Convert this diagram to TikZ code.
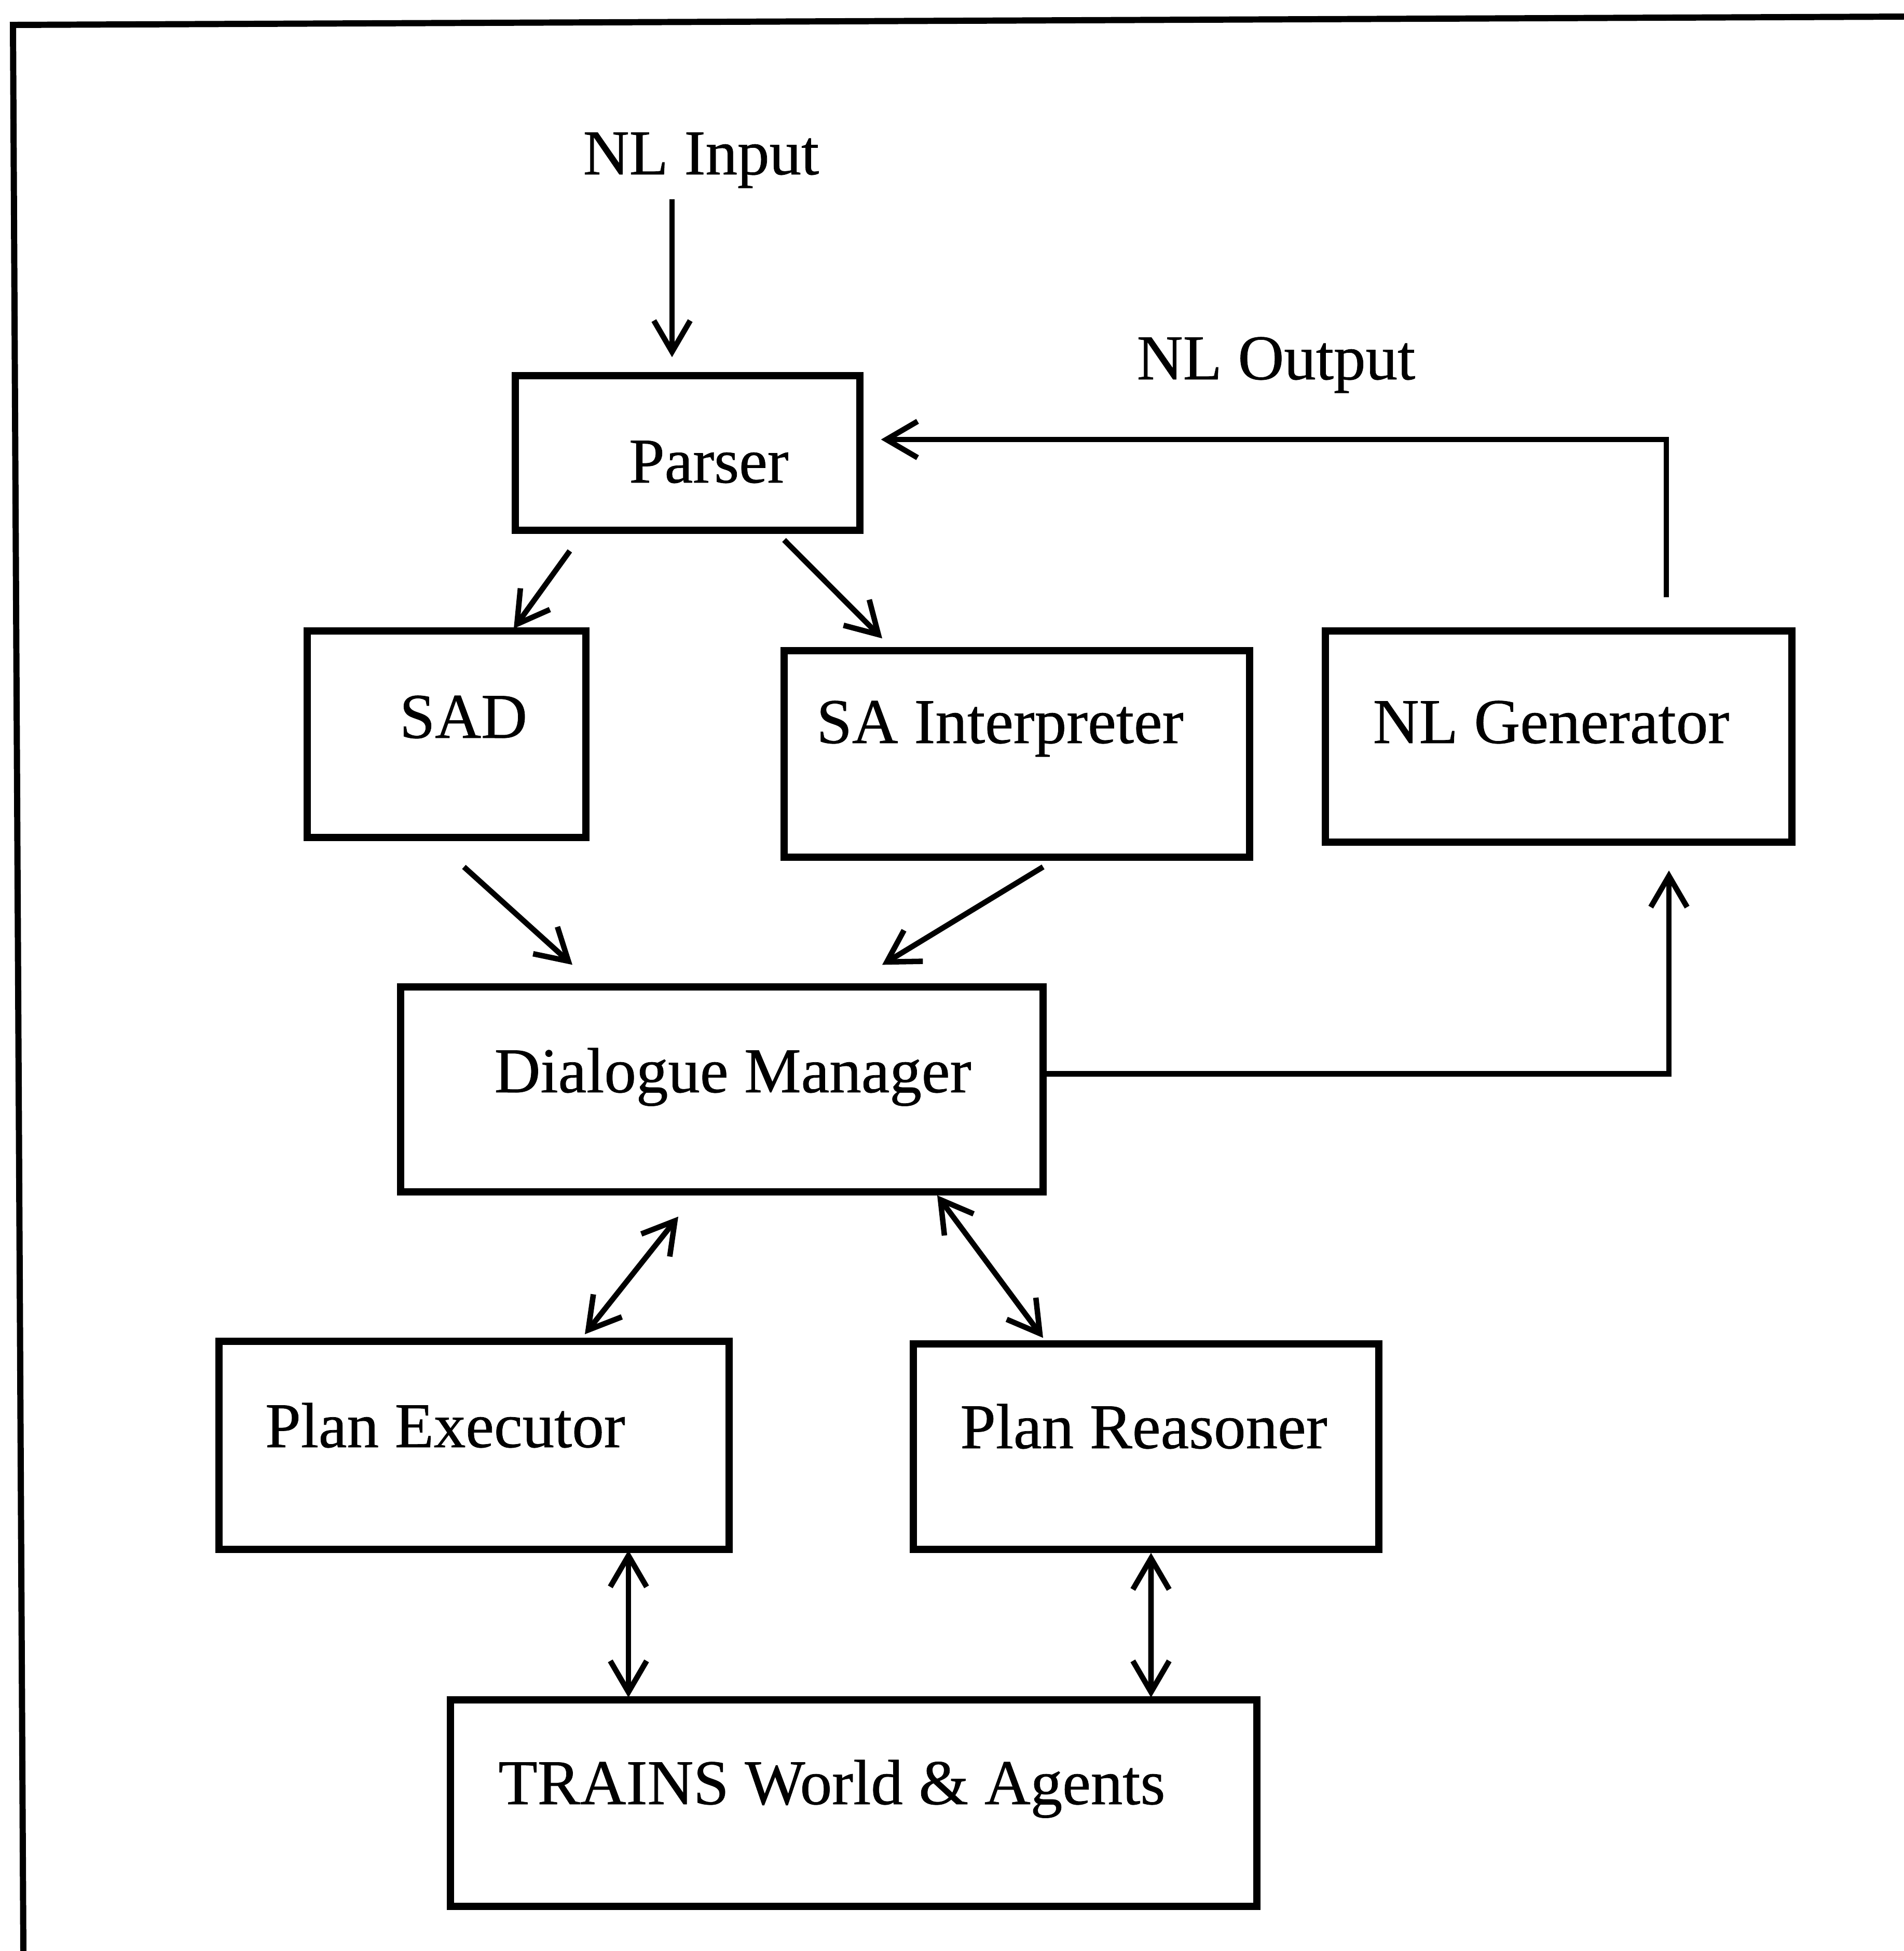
\documentclass[tikz,border=0pt]{standalone}
\usepackage{fontspec}
\setmainfont{Liberation Serif}
\newfontfamily\lblfont{Liberation Serif}[FakeBold=0.6]
\usetikzlibrary{arrows.meta,calc}
\begin{document}
\begin{tikzpicture}[
  box/.style={draw, line width=3.8pt, rectangle, inner sep=0pt},
  lbl/.style={font=\lblfont\fontsize{35}{42}\selectfont, anchor=base, inner sep=0pt},
  arr/.style={line width=3pt, -{Straight Barb[length=0.6cm,width=0.7cm]}},
  darr/.style={line width=3pt, {Straight Barb[length=0.6cm,width=0.7cm]}-{Straight Barb[length=0.6cm,width=0.7cm]}},
  frame/.style={line width=3.4pt, line cap=rect}
]
\useasboundingbox (0,0) rectangle (36.69,-37.6);

% open frame: left and top edges only
\draw[frame] (0.45,-37.6) -- (0.25,-0.48) -- (36.69,-0.32);

% boxes
\node[box, minimum width=6.64cm, minimum height=2.98cm] (parser) at (13.25,-8.73) {};
\node[box, minimum width=5.37cm, minimum height=3.98cm] (sad) at (8.605,-14.15) {};
\node[box, minimum width=8.97cm, minimum height=3.98cm] (sai) at (19.595,-14.53) {};
\node[box, minimum width=8.99cm, minimum height=4.07cm] (nlg) at (30.035,-14.195) {};
\node[box, minimum width=12.38cm, minimum height=3.95cm] (dm) at (13.91,-20.995) {};
\node[box, minimum width=9.83cm, minimum height=4.01cm] (pe) at (9.135,-27.855) {};
\node[box, minimum width=8.97cm, minimum height=3.96cm] (pr) at (22.085,-27.88) {};
\node[box, minimum width=15.54cm, minimum height=3.98cm] (tw) at (16.45,-34.75) {};

% texts
\node[lbl] (nlin) at (13.51,-3.36) {NL Input};
\node[lbl] (nlout) at (24.59,-7.31) {NL Output};
\node[lbl] (parsertxt) at (13.66,-9.30) {Parser};
\node[lbl] (sadtxt) at (8.93,-14.22) {SAD};
\node[lbl] (saitxt) at (19.27,-14.32) {SA Interpreter};
\node[lbl] (nlgtxt) at (29.89,-14.32) {NL Generator};
\node[lbl] (dmtxt) at (14.12,-21.05) {Dialogue Manager};
\node[lbl] (petxt) at (8.58,-27.89) {Plan Executor};
\node[lbl] (prtxt) at (22.04,-27.91) {Plan Reasoner};
\node[lbl] (twtxt) at (16.03,-34.77) {TRAINS World \& Agents};

% input into the parser
\draw[arr] ($(parser.north)+(-0.30,3.33)$) -- ($(parser.north)+(-0.30,0.29)$);

% generator output fed back to the parser
\draw[arr] ($(nlg.north)+(2.075,0.58)$) |- ($(parser.east)+(0.34,0.26)$);

% dialogue manager to generator
\draw[arr] ($(dm.east)+(0,0.30)$) -| ($(nlg.south)+(2.125,-0.48)$);

% parser fan-out
\draw[arr] ($(parser.south)+(-2.27,-0.33)$) -- ($(sad.north)+(1.295,-0.02)$);
\draw[arr] ($(parser.south)+(1.86,-0.12)$) -- ($(sai.north)+(-2.595,0.17)$);

% into the dialogue manager
\draw[arr] ($(sad.south)+(0.335,-0.50)$) -- ($(dm.north)+(-2.88,0.36)$);
\draw[arr] ($(sai.south)+(0.505,-0.12)$) -- ($(dm.north)+(3.09,0.36)$);

% two-way links
\draw[darr] ($(dm.south)+(-0.84,-0.41)$) -- ($(pe.north)+(2.135,0.07)$);
\draw[darr] ($(dm.south)+(4.15,0)$) -- ($(pr.north)+(-1.985,0.05)$);
\draw[darr] ($(pe.south)+(2.975,0.05)$) -- ($(tw.north)+(-4.34,-0.02)$);
\draw[darr] ($(pr.south)+(0.095,0)$) -- ($(tw.north)+(5.73,-0.02)$);
\end{tikzpicture}
\end{document}
